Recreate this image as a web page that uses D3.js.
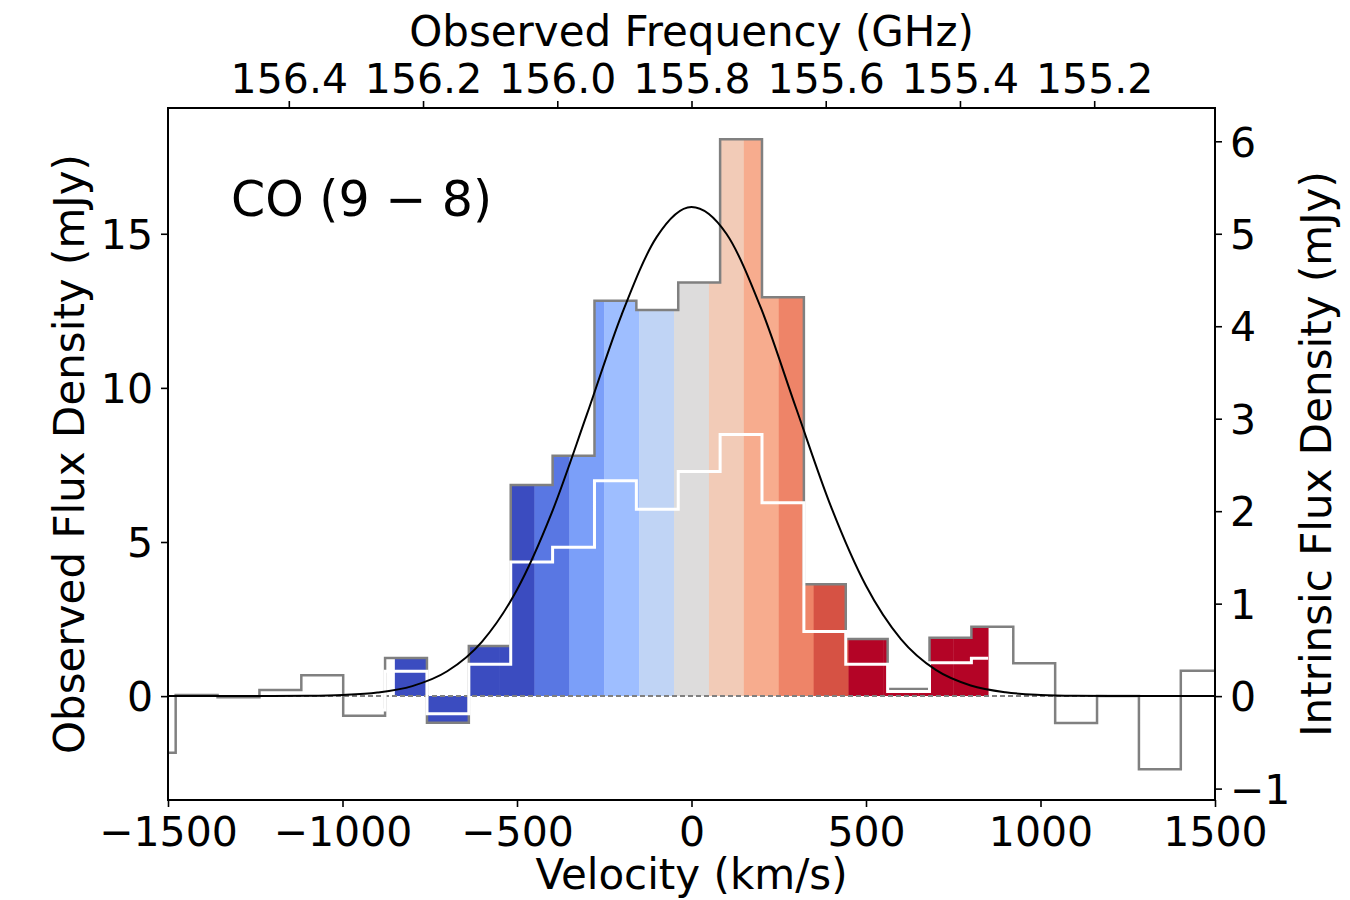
<!DOCTYPE html>
<html>
<head>
<meta charset="utf-8">
<script src="https://cdn.jsdelivr.net/npm/d3@7"></script>
<style>
  html, body { margin: 0; padding: 0; background: #fff; }
  svg { display: block; font-family: "DejaVu Sans", sans-serif; }
</style>
</head>
<body>
<svg id="chart" width="1350" height="900"></svg>
<script>
// channel centres (km/s), 120 km/s wide
const channelVel = [-1538, -1418, -1298, -1178, -1058, -938, -818, -698, -578, -458, -338, -218, -98,
  22, 142, 262, 382, 502, 622, 742, 862, 982, 1102, 1222, 1342, 1462];
const observedFlux = [-1.84, 0.04, -0.04, 0.20, 0.68, -0.64, 1.24, -0.86, 1.63, 6.85, 7.80, 12.83, 12.53,
  13.42, 18.07, 12.94, 3.63, 1.85, 0.23, 1.89, 2.25, 1.07, -0.87, 0.00, -2.37, 0.82];

// intrinsic (source plane) spectrum, same channels
const intrinsicVel = [-938, -818, -698, -578, -458, -338, -218, -98, 22, 142, 262, 382, 502, 622, 742, 862];
const intrinsicFlux = [-0.15, 0.27, -0.19, 0.345, 1.45, 1.61, 2.33, 2.02, 2.43, 2.83, 2.09, 0.70, 0.345, 0.05, 0.36, 0.41];

// velocity slices used for the colour fill (centres, km/s)
const sliceVel = [-800, -700, -600, -500, -400, -300, -200, -100, 0, 100, 200, 300, 400, 500, 600, 700, 800];
const sliceHalfWidth = 50;

// gaussian fit
const fitVel = [-1500, -1400, -1300, -1200, -1100, -1000, -900, -800, -700, -600, -500, -400, -300, -200, -100,
  0, 100, 200, 300, 400, 500, 600, 700, 800, 900, 1000, 1100, 1200, 1300, 1400, 1500];
const fitFlux = [0, 0, 0, 0.003, 0.01, 0.037, 0.116, 0.325, 0.806, 1.77, 3.45, 5.96, 9.13, 12.38, 14.89,
  15.87, 15.0, 12.56, 9.33, 6.14, 3.58, 1.85, 0.849, 0.345, 0.124, 0.04, 0.01, 0.003, 0, 0, 0];

const velTicks = [-1500, -1000, -500, 0, 500, 1000, 1500];
const obsTicks = [0, 5, 10, 15];
const intTicks = [-1, 0, 1, 2, 3, 4, 5, 6];
const freqTicks = [156.4, 156.2, 156.0, 155.8, 155.6, 155.4, 155.2];
const freqAtVelDomain = [156.580, 155.020];

const velDomain = [-1500, 1500];
const obsDomain = [-3.37, 19.08];
const intDomain = [-3.37 / 3, 19.08 / 3];

const coolwarm = ["#3b4cc0", "#5977e3", "#7b9ff9", "#9ebeff", "#c0d4f5", "#dddcdc",
  "#f2cbb7", "#f7ac8e", "#ee8468", "#d65244", "#b40426"];

const margin = {left: 168, right: 135, top: 108, bottom: 100};
const W = 1350, H = 900;
const pw = W - margin.left - margin.right;
const ph = H - margin.top - margin.bottom;
const fs = 41;   // tick labels
const tfs = 42;  // axis titles

const svg = d3.select("#chart");
const g = svg.append("g").attr("transform", `translate(${margin.left},${margin.top})`);

const x = d3.scaleLinear(velDomain, [0, pw]);
const xf = d3.scaleLinear(freqAtVelDomain, [0, pw]);
const y = d3.scaleLinear(obsDomain, [ph, 0]);
const y2 = d3.scaleLinear(intDomain, [ph, 0]);
const color = d3.scaleLinear(d3.range(11).map(i => -500 + i * 100), coolwarm).clamp(true);

const defs = svg.append("defs");
defs.append("clipPath").attr("id", "plot").append("rect").attr("width", pw).attr("height", ph);

// step points: left edges + closing right edge
const obsPts = channelVel.map((v, i) => [v - 60, observedFlux[i]]);
obsPts.push([channelVel[channelVel.length - 1] + 60, observedFlux[observedFlux.length - 1]]);
const intPts = intrinsicVel.map((v, i) => [v - 60, intrinsicFlux[i]]);
intPts.push([intrinsicVel[intrinsicVel.length - 1] + 60, intrinsicFlux[intrinsicFlux.length - 1]]);

const stepArea = d3.area().curve(d3.curveStepAfter)
  .x(d => x(d[0])).y0(y(0)).y1(d => y(d[1]));
defs.append("clipPath").attr("id", "under").append("path").attr("d", stepArea(obsPts));

const hi = sliceVel[sliceVel.length - 1] + sliceHalfWidth;
defs.append("clipPath").attr("id", "slices").append("rect")
  .attr("x", x(-885)).attr("y", 0).attr("width", x(hi) - x(-885)).attr("height", ph);

const plot = g.append("g").attr("clip-path", "url(#plot)");

// coloured velocity slices under the observed spectrum
plot.append("g").attr("clip-path", "url(#under)")
  .selectAll("rect").data(sliceVel).join("rect")
  .attr("x", d => x(d - sliceHalfWidth))
  .attr("width", d => x(d + sliceHalfWidth) - x(d - sliceHalfWidth) + 0.4)
  .attr("y", 0).attr("height", ph)
  .attr("fill", d => color(d));

// zero line
plot.append("line")
  .attr("x1", 0).attr("x2", pw).attr("y1", y(0)).attr("y2", y(0))
  .attr("stroke", "#808080").attr("stroke-width", 2).attr("stroke-dasharray", "5,3");

// observed spectrum
plot.append("path")
  .attr("d", d3.line().curve(d3.curveStepAfter).x(d => x(d[0])).y(d => y(d[1]))(obsPts))
  .attr("fill", "none").attr("stroke", "#808080").attr("stroke-width", 2.5);

// intrinsic spectrum
plot.append("g").attr("clip-path", "url(#slices)").append("path")
  .attr("d", d3.line().curve(d3.curveStepAfter).x(d => x(d[0])).y(d => y2(d[1]))(intPts))
  .attr("fill", "none").attr("stroke", "#fff").attr("stroke-width", 3);

// gaussian fit
plot.append("path")
  .datum(fitVel.map((v, i) => [v, fitFlux[i]]))
  .attr("d", d3.line().curve(d3.curveMonotoneX).x(d => x(d[0])).y(d => y(d[1])))
  .attr("fill", "none").attr("stroke", "#000").attr("stroke-width", 2);

// axes
function style(a) {
  a.select(".domain").remove();
  a.selectAll(".tick line").attr("stroke", "#000").attr("stroke-width", 1.6);
  a.selectAll(".tick text").attr("font-size", fs).attr("font-family", "DejaVu Sans").attr("fill", "#000");
}
g.append("g").attr("transform", `translate(0,${ph})`)
  .call(d3.axisBottom(x).tickValues(velTicks).tickFormat(d3.format("d")).tickSize(7).tickPadding(10))
  .call(style);
g.append("g")
  .call(d3.axisTop(xf).tickValues(freqTicks).tickFormat(d3.format(".1f")).tickSize(7).tickPadding(8))
  .call(style);
g.append("g")
  .call(d3.axisLeft(y).tickValues(obsTicks).tickFormat(d3.format("d")).tickSize(7).tickPadding(8))
  .call(style)
  .selectAll(".tick text").attr("dy", "0.36em");
g.append("g").attr("transform", `translate(${pw},0)`)
  .call(d3.axisRight(y2).tickValues(intTicks).tickFormat(d3.format("d")).tickSize(7).tickPadding(8))
  .call(style)
  .selectAll(".tick text").attr("dy", "0.36em");

g.append("rect").attr("width", pw).attr("height", ph)
  .attr("fill", "none").attr("stroke", "#000").attr("stroke-width", 2);

// labels
svg.append("text").attr("x", margin.left + pw / 2).attr("y", 889)
  .attr("text-anchor", "middle").attr("font-size", tfs).text("Velocity (km/s)");
svg.append("text").attr("x", margin.left + pw / 2).attr("y", 46)
  .attr("text-anchor", "middle").attr("font-size", tfs).text("Observed Frequency (GHz)");
svg.append("text").attr("transform", `translate(84,${margin.top + ph / 2}) rotate(-90)`)
  .attr("text-anchor", "middle").attr("font-size", tfs).text("Observed Flux Density (mJy)");
svg.append("text").attr("transform", `translate(1331,${margin.top + ph / 2}) rotate(-90)`)
  .attr("text-anchor", "middle").attr("font-size", tfs).text("Intrinsic Flux Density (mJy)");
svg.append("text").attr("x", 231).attr("y", 216).attr("font-size", 49).text("CO (9 \u2212 8)");
</script>
</body>
</html>
